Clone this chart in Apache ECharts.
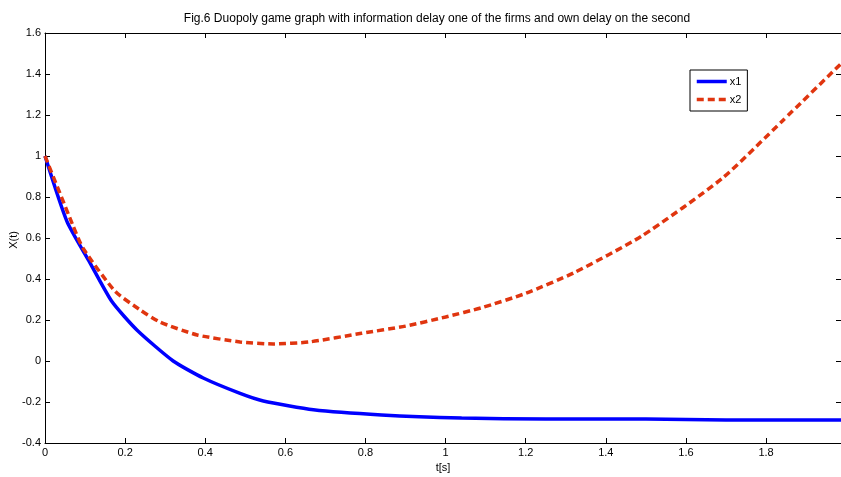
<!DOCTYPE html>
<html><head><meta charset="utf-8">
<script src="https://cdn.jsdelivr.net/npm/echarts@6/dist/echarts.min.js"></script>
<style>html,body{margin:0;padding:0;background:#fff}#c{width:841px;height:477px}</style>
</head><body><div id="c"></div>
<script>
var titleText = 'Fig.6 Duopoly game graph with information delay one of the firms and own delay on the second';
var xLabel = 't[s]';
var yLabel = 'X(t)';
var seriesNames = ['x1', 'x2'];
var t1 = [0, 0.055, 0.112, 0.167, 0.23, 0.32, 0.395, 0.487, 0.545, 0.67, 0.84, 1.04, 1.25, 1.5, 1.7, 1.987];
var x1 = [1, 0.68, 0.48, 0.29, 0.15, 0.0, -0.083, -0.158, -0.195, -0.238, -0.263, -0.278, -0.283, -0.283, -0.288, -0.288];
var t2 = [0, 0.07, 0.095, 0.175, 0.237, 0.287, 0.38, 0.487, 0.57, 0.66, 0.79, 0.9, 1.0, 1.09, 1.2, 1.32, 1.49, 1.69, 1.84, 1.987];
var x2 = [1, 0.66, 0.55, 0.34, 0.25, 0.19, 0.127, 0.093, 0.083, 0.093, 0.135, 0.17, 0.215, 0.26, 0.33, 0.43, 0.61, 0.89, 1.17, 1.45];
var xMin = 0, xMax = 1.987, xStep = 0.2;
var yMin = -0.4, yMax = 1.6, yStep = 0.2;

function pairs(a, b) { return a.map(function (v, i) { return [v, b[i]]; }); }
function fmt(v) {
  var r = Math.round(v * 10) / 10;
  if (Math.abs(v / 0.2 - Math.round(v / 0.2)) > 1e-6) return '';
  return String(r);
}
var font = '"Liberation Sans Narrow", "Liberation Sans", Arial, sans-serif';
var lineC = '#000';
function axisBase(show) {
  return {
    axisLine: { show: true, onZero: false, lineStyle: { color: lineC, width: 1 } },
    axisTick: { show: true, inside: true, length: 5, lineStyle: { color: lineC } },
    splitLine: { show: false },
    axisLabel: { show: show, color: '#000', fontSize: 11, fontFamily: font, margin: 4, formatter: fmt, hideOverlap: false }
  };
}
var chart = echarts.init(document.getElementById('c'), null, { renderer: 'canvas' });
var xb = Object.assign({ type: 'value', position: 'bottom', min: xMin, max: xMax, interval: xStep, name: xLabel, nameLocation: 'middle', nameGap: 18, nameTextStyle: { color: '#000', fontSize: 11, fontFamily: font } }, axisBase(true));
var xt = Object.assign({ type: 'value', position: 'top', min: xMin, max: xMax, interval: xStep }, axisBase(false));
var yl = Object.assign({ type: 'value', position: 'left', min: yMin, max: yMax, interval: yStep }, axisBase(true));
var yr = Object.assign({ type: 'value', position: 'right', min: yMin, max: yMax, interval: yStep }, axisBase(false));
yr.axisLine.show = false;
chart.setOption({
  animation: false,
  backgroundColor: '#fff',
  title: { text: titleText, left: 432, top: 8, textAlign: 'center', textStyle: { fontSize: 12, fontWeight: 'normal', color: '#000', fontFamily: font } },
  grid: { left: 45, top: 33, right: 0, bottom: 34, containLabel: false, outerBoundsMode: 'none' },
  graphic: [{
    type: 'text', x: 14, y: 240, rotation: Math.PI / 2,
    style: { text: yLabel, fill: '#000', fontSize: 11, fontFamily: font, align: 'center', verticalAlign: 'middle' }
  }],
  legend: {
    data: seriesNames, left: 690, top: 70, orient: 'vertical', itemWidth: 30, itemHeight: 10, itemGap: 7,
    backgroundColor: '#fff', borderColor: '#000', borderWidth: 1, padding: [6, 6, 6, 5],
    itemStyle: { opacity: 0 },
    lineStyle: { width: 3.5 },
    textStyle: { color: '#000', fontSize: 11, fontFamily: font, padding: [0, 0, 0, -2] }
  },
  xAxis: [xb, xt],
  yAxis: [yl, yr],
  series: [
    { name: seriesNames[0], type: 'line', data: pairs(t1, x1), smooth: 0.2, showSymbol: false, symbol: 'none', lineStyle: { color: '#0000ff', width: 3.5 }, itemStyle: { color: '#0000ff' } },
    { name: seriesNames[1], type: 'line', data: pairs(t2, x2), smooth: 0.2, showSymbol: false, symbol: 'none', lineStyle: { color: '#e0350f', width: 3.5, type: [7, 4] }, itemStyle: { color: '#e0350f' } }
  ]
});
</script></body></html>
